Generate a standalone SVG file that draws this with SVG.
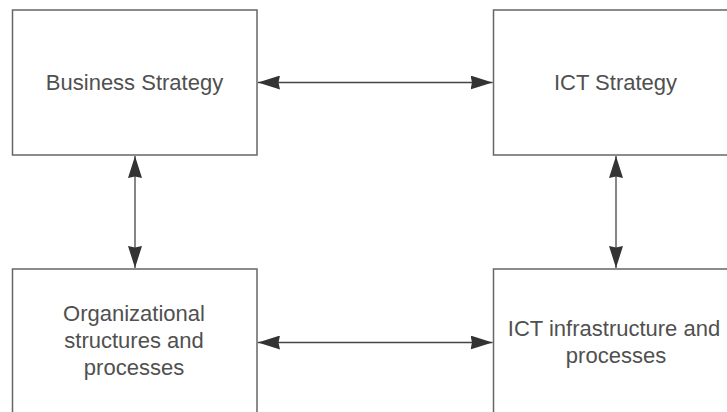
<svg xmlns="http://www.w3.org/2000/svg" width="727" height="412" viewBox="0 0 727 412">
<defs>
<style>
.box{fill:#fff;stroke:#666;stroke-width:1.5}
.lbl{font-family:"Liberation Sans",Arial,sans-serif;font-size:22px;fill:#505050;text-anchor:middle}
.con{stroke:#444;stroke-width:1.3;fill:none;marker-start:url(#ah);marker-end:url(#ah)}
</style>
<marker id="ah" viewBox="0 0 22 14" refX="22" refY="7" markerWidth="22" markerHeight="14" markerUnits="userSpaceOnUse" orient="auto-start-reverse">
<path d="M0,0 L22,7 L0,14 L1.5,7 Z" fill="#333"/>
</marker>
</defs>
<rect width="727" height="412" fill="#fff"/>
<g id="business-strategy">
<rect class="box" x="12.5" y="10" width="244.5" height="145"/>
<text class="lbl" x="134.5" y="90">Business Strategy</text>
</g>
<g id="ict-strategy">
<rect class="box" x="493.5" y="10" width="244.5" height="145"/>
<text class="lbl" x="615.5" y="90">ICT Strategy</text>
</g>
<g id="org-structures">
<rect class="box" x="12.5" y="269" width="244.5" height="160"/>
<text class="lbl" x="134" y="321">Organizational</text>
<text class="lbl" x="134" y="348">structures and</text>
<text class="lbl" x="134" y="375">processes</text>
</g>
<g id="ict-infrastructure">
<rect class="box" x="493.5" y="269" width="244.5" height="160"/>
<text class="lbl" x="614" y="336">ICT infrastructure and</text>
<text class="lbl" x="616" y="363">processes</text>
</g>
<g id="connectors">
<line class="con" x1="258" y1="82.5" x2="492.5" y2="82.5"/>
<line class="con" x1="258" y1="342.5" x2="492.5" y2="342.5"/>
<line class="con" x1="135" y1="156" x2="135" y2="268"/>
<line class="con" x1="616" y1="156" x2="616" y2="268"/>
</g>
</svg>
